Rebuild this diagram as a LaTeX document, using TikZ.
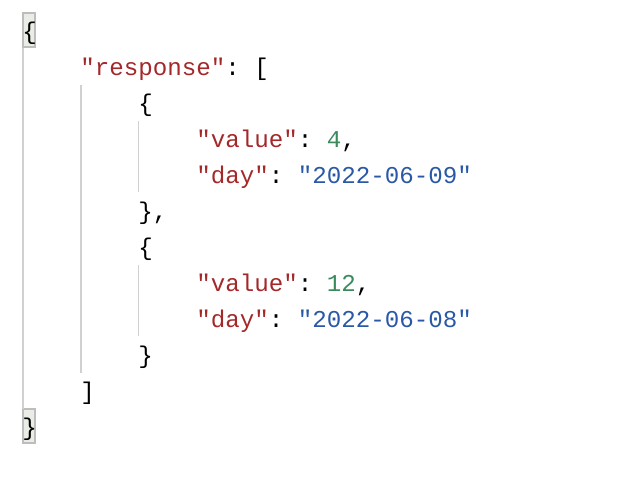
\documentclass[tikz,border=0pt]{standalone}
\usepackage{fontspec}
\setmonofont{Liberation Mono}
\definecolor{jkey}{HTML}{A3282A}
\definecolor{jstr}{HTML}{2A58A6}
\definecolor{jnum}{HTML}{3B8A5C}
\definecolor{guidegray}{HTML}{D0D0D0}
\definecolor{boxgray}{HTML}{BDBDBD}
\definecolor{boxfill}{HTML}{E9EDE6}
\newcommand\jk[1]{\textcolor{jkey}{"#1"}}
\newcommand\js[1]{\textcolor{jstr}{"#1"}}
\newcommand\jn[1]{\textcolor{jnum}{#1}}
\begin{document}
\begin{tikzpicture}[x=1pt,y=-1pt,
  code/.style={anchor=base west, inner sep=0pt, outer sep=0pt,
    font=\ttfamily\fontsize{24.17}{36}\selectfont},
  guide/.style={draw=guidegray, line width=1.5pt},
  bracebox/.style={draw=boxgray, fill=boxfill, line width=1.5pt}]
\useasboundingbox (0,0) rectangle (634,482);
% bracket highlight boxes
\draw[bracebox] (23.2,13.2) rectangle (34.8,46.8);
\draw[bracebox] (23.2,409.2) rectangle (34.8,442.8);
% indent guides
\draw[guide] (23.2,47.5) -- (23.2,408.5);
\draw[guide] (80.8,84.5) -- (80.8,372.5);
\draw[guide] (138.5,120.5) -- (138.5,192);
\draw[guide] (138.5,264.5) -- (138.5,336);
% code lines
\node[code] (l0)  at (22.3,39.3)  {\{};
\node[code] (l1)  at (80.3,75.3)  {\jk{response}: [};
\node[code] (l2)  at (138.3,111.3) {\{};
\node[code] (l3)  at (196.3,147.3) {\jk{value}: \jn{4},};
\node[code] (l4)  at (196.3,183.3) {\jk{day}: \js{2022-06-09}};
\node[code] (l5)  at (138.3,219.3) {\},};
\node[code] (l6)  at (138.3,255.3) {\{};
\node[code] (l7)  at (196.3,291.3) {\jk{value}: \jn{12},};
\node[code] (l8)  at (196.3,327.3) {\jk{day}: \js{2022-06-08}};
\node[code] (l9)  at (138.3,363.3) {\}};
\node[code] (l10) at (80.3,399.3) {]};
\node[code] (l11) at (22.3,435.3) {\}};
\end{tikzpicture}
\end{document}
